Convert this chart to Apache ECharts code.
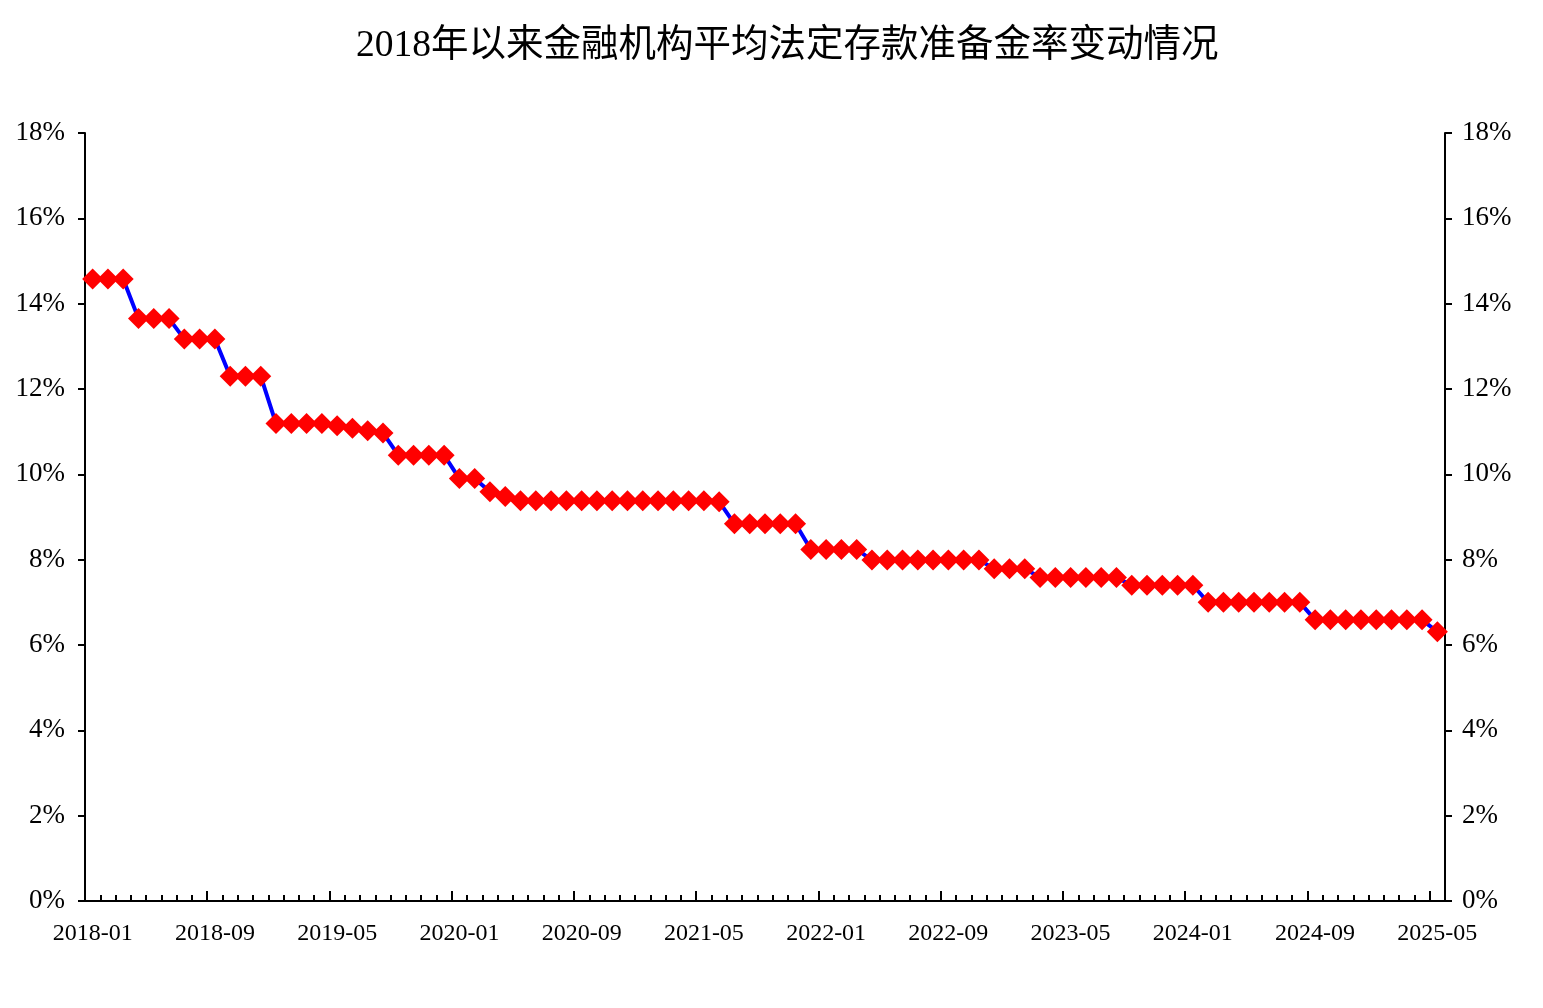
<!DOCTYPE html>
<html>
<head>
<meta charset="utf-8">
<script src="https://cdn.jsdelivr.net/npm/echarts@6/dist/echarts.min.js"></script>
<style>
html,body{margin:0;padding:0;background:#fff;}
#chart{width:1543px;height:1008px;}
</style>
</head>
<body>
<div id="chart"></div>
<script>
var titleText = '2018年以来金融机构平均法定存款准备金率变动情况';

var months = [
  '2018-01','2018-02','2018-03','2018-04','2018-05','2018-06','2018-07','2018-08','2018-09','2018-10','2018-11','2018-12',
  '2019-01','2019-02','2019-03','2019-04','2019-05','2019-06','2019-07','2019-08','2019-09','2019-10','2019-11','2019-12',
  '2020-01','2020-02','2020-03','2020-04','2020-05','2020-06','2020-07','2020-08','2020-09','2020-10','2020-11','2020-12',
  '2021-01','2021-02','2021-03','2021-04','2021-05','2021-06','2021-07','2021-08','2021-09','2021-10','2021-11','2021-12',
  '2022-01','2022-02','2022-03','2022-04','2022-05','2022-06','2022-07','2022-08','2022-09','2022-10','2022-11','2022-12',
  '2023-01','2023-02','2023-03','2023-04','2023-05','2023-06','2023-07','2023-08','2023-09','2023-10','2023-11','2023-12',
  '2024-01','2024-02','2024-03','2024-04','2024-05','2024-06','2024-07','2024-08','2024-09','2024-10','2024-11','2024-12',
  '2025-01','2025-02','2025-03','2025-04','2025-05'
];

var rrr = [
  14.58,14.58,14.58,13.65,13.65,13.65,13.17,13.17,13.17,12.30,12.30,12.30,
  11.19,11.19,11.19,11.19,11.14,11.08,11.02,10.97,10.45,10.45,10.45,10.45,
  9.90,9.90,9.59,9.48,9.38,9.38,9.38,9.38,9.38,9.38,9.38,9.38,
  9.38,9.38,9.38,9.38,9.38,9.36,8.84,8.84,8.84,8.84,8.84,8.24,
  8.24,8.24,8.24,7.99,7.99,7.99,7.99,7.99,7.99,7.99,7.99,7.79,
  7.79,7.79,7.58,7.58,7.58,7.58,7.58,7.58,7.40,7.40,7.40,7.40,
  7.40,7.00,7.00,7.00,7.00,7.00,7.00,7.00,6.59,6.59,6.59,6.59,
  6.59,6.59,6.59,6.59,6.31
];

var yMin = 0, yMax = 18, yStep = 2;

var serif = "'Liberation Serif','Times New Roman',serif";
var titleFont = "'Liberation Serif','Noto Sans CJK SC',serif";

var chart = echarts.init(document.getElementById('chart'), null, {renderer:'canvas'});

function yAxisCfg(pos, margin) {
  return {
    type: 'value', position: pos, min: yMin, max: yMax, interval: yStep,
    axisLine: {show: true, lineStyle: {color: '#000', width: 2}},
    axisTick: {show: true, inside: false, length: 7, lineStyle: {color: '#000', width: 2}},
    splitLine: {show: false},
    axisLabel: {formatter: '{value}%', color: '#000', fontFamily: serif, fontSize: 27, margin: margin}
  };
}

chart.setOption({
  animation: false,
  backgroundColor: '#fff',
  title: {
    text: titleText, left: 356, top: 27, padding: 0,
    textStyle: {fontFamily: titleFont, fontSize: 37.5, lineHeight: 38, fontWeight: 'normal', color: '#000'}
  },
  grid: {left: 85, right: 98, top: 133, bottom: 107, containLabel: false},
  xAxis: [
    {
      type: 'category', data: months, boundaryGap: true, position: 'bottom',
      axisLine: {show: true, onZero: false, lineStyle: {color: '#000', width: 2}},
      axisTick: {show: true, inside: true, interval: 7, length: 10, lineStyle: {color: '#000', width: 2}},
      axisLabel: {interval: 7, color: '#000', fontFamily: serif, fontSize: 24, margin: 21},
      splitLine: {show: false}
    },
    {
      type: 'category', data: months, boundaryGap: true, position: 'bottom', offset: 0,
      axisLine: {show: false, onZero: false},
      axisTick: {show: true, inside: true, interval: 0, length: 6, lineStyle: {color: '#000', width: 2}},
      axisLabel: {show: false},
      splitLine: {show: false}
    }
  ],
  yAxis: [yAxisCfg('left', 20), yAxisCfg('right', 17)],
  series: [{
    type: 'line', data: rrr, xAxisIndex: 0, yAxisIndex: 0,
    symbol: 'diamond', symbolSize: 21, showAllSymbol: true,
    lineStyle: {color: '#0000FF', width: 4},
    itemStyle: {color: '#FF0000', borderWidth: 0}
  }]
});
</script>
</body>
</html>
